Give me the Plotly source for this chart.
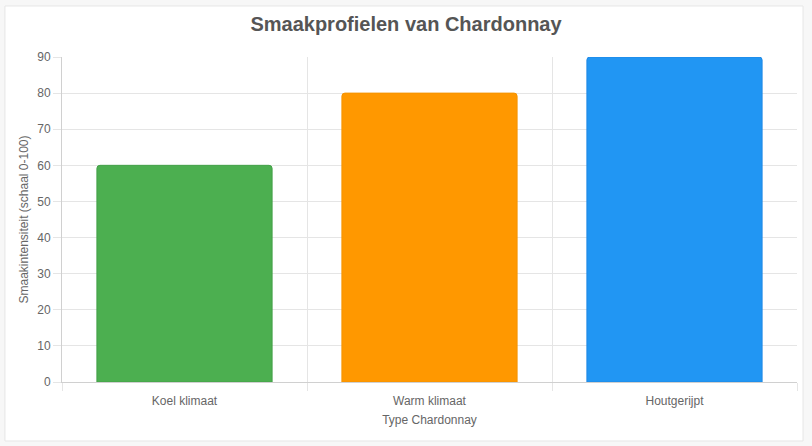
import plotly.graph_objects as go

categories = ["Koel klimaat", "Warm klimaat", "Houtgerijpt"]
intensity = [60, 80, 90]
colors = ["#4CAF50", "#FF9800", "#2196F3"]
borders = ["#43A047", "#F59300", "#1E88E5"]
y_ticks = [0, 10, 20, 30, 40, 50, 60, 70, 80, 90]

positions = list(range(len(categories)))

fig = go.Figure()
fig.add_trace(go.Bar(
    x=positions,
    y=intensity,
    marker=dict(color=colors, line=dict(color=borders, width=1), cornerradius=3),
    width=0.715,
    hoverinfo="y",
))

# card behind the chart
fig.add_shape(type="rect", xref="paper", yref="paper",
              x0=-0.0776, x1=1.0082, y0=-0.1815, y1=1.157,
              line=dict(color="#e6e6e6", width=1), fillcolor="white", layer="below")

fig.update_layout(
    width=812, height=446,
    paper_bgcolor="#f7f7f7",
    plot_bgcolor="rgba(0,0,0,0)",
    margin=dict(l=62, r=15, t=57, b=64),
    showlegend=False,
    title=dict(text="<b>Smaakprofielen van Chardonnay</b>", x=(406 - 62) / 735, xref="paper",
               xanchor="center", y=0.946, yanchor="middle",
               font=dict(family="Liberation Sans, Arial", size=20, color="#555555")),
    font=dict(family="Liberation Sans, Arial", size=12, color="#666666"),
)
fig.update_xaxes(
    range=[-0.5, 2.5],
    tickvals=positions, ticktext=categories,
    showgrid=False, ticks="",
    ticklabelstandoff=8,
    showline=True, linecolor="#d0d0d0", linewidth=1,
    minor=dict(tick0=-0.5, dtick=1, showgrid=True, gridcolor="#e5e5e5",
               ticks="outside", ticklen=8, tickcolor="#e5e5e5"),
    title=dict(text="Type Chardonnay", font=dict(size=12, color="#666666"), standoff=8),
    tickfont=dict(size=12, color="#666666"),
    fixedrange=True,
)
fig.update_yaxes(
    range=[0, 90],
    tickvals=y_ticks,
    showgrid=True, gridcolor="#e5e5e5",
    ticks="outside", ticklen=8, tickcolor="#e5e5e5",
    showline=True, linecolor="#d0d0d0", linewidth=1,
    zeroline=False,
    title=dict(text="Smaakintensiteit (schaal 0-100)", font=dict(size=12, color="#666666"), standoff=6),
    tickfont=dict(size=12, color="#666666"),
    fixedrange=True,
)

fig.write_html("out.html", config={"displayModeBar": False},
               post_script="document.body.style.margin='0';")
